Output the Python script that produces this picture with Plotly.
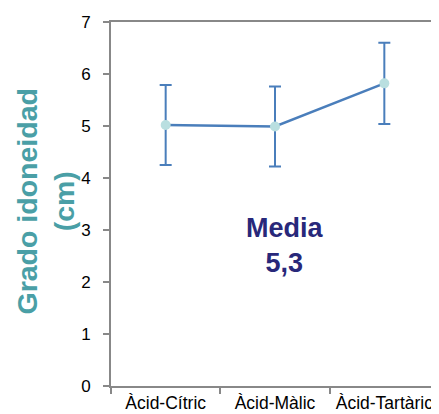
import plotly.graph_objects as go

categories = ["Àcid-Cítric", "Àcid-Màlic", "Àcid-Tartàric"]
means = [5.02, 4.99, 5.82]
errors = [0.77, 0.77, 0.78]
y_ticks = [0, 1, 2, 3, 4, 5, 6, 7]

FONT = "Liberation Sans, Arial, sans-serif"
AXIS = "#888888"

fig = go.Figure()
fig.add_trace(go.Scatter(
    x=categories, y=means, mode="lines+markers",
    line=dict(color="#4A7EBB", width=2.5),
    marker=dict(color="#B9DFE0", size=10, line=dict(width=0)),
    error_y=dict(type="data", array=errors, visible=True,
                 color="#4A7EBB", thickness=2, width=6),
    showlegend=False,
))

# page body has an 8px margin, so the figure is sized to fit the window
fig.update_layout(
    width=431, height=406,
    margin=dict(l=103, r=0, t=14, b=28),
    paper_bgcolor="white", plot_bgcolor="white",
    font=dict(family=FONT, color="black"),
    xaxis=dict(
        type="category", range=[-0.5, 2.5],
        showline=True, linecolor=AXIS, linewidth=2, mirror=True,
        ticks="outside", tickson="boundaries", ticklen=6, tickwidth=2, tickcolor=AXIS,
        tickfont=dict(size=17.5, family=FONT, color="black"), tickangle=0,
        showgrid=False, zeroline=False, automargin=False,
    ),
    yaxis=dict(
        range=[0, 7], tickvals=y_ticks,
        showline=True, linecolor=AXIS, linewidth=2,
        ticks="outside", ticklen=6, tickwidth=2, tickcolor=AXIS,
        tickfont=dict(size=17, family=FONT, color="black"),
        ticklabelstandoff=9,
        showgrid=False, zeroline=False, automargin=False,
    ),
    annotations=[
        dict(text="<b>Grado idoneidad<br>(cm)</b>", textangle=-90,
             xref="paper", yref="paper", x=-0.2, y=0.508,
             xanchor="center", yanchor="middle", showarrow=False,
             font=dict(size=28.5, family=FONT, color="#4A9FA6")),
        dict(text="<b>Media<br>5,3</b>",
             xref="paper", yref="y", x=0.532, y=2.71,
             xanchor="center", yanchor="middle", showarrow=False,
             font=dict(size=27, family=FONT, color="#28287A")),
    ],
)

fig.write_html("out.html")
